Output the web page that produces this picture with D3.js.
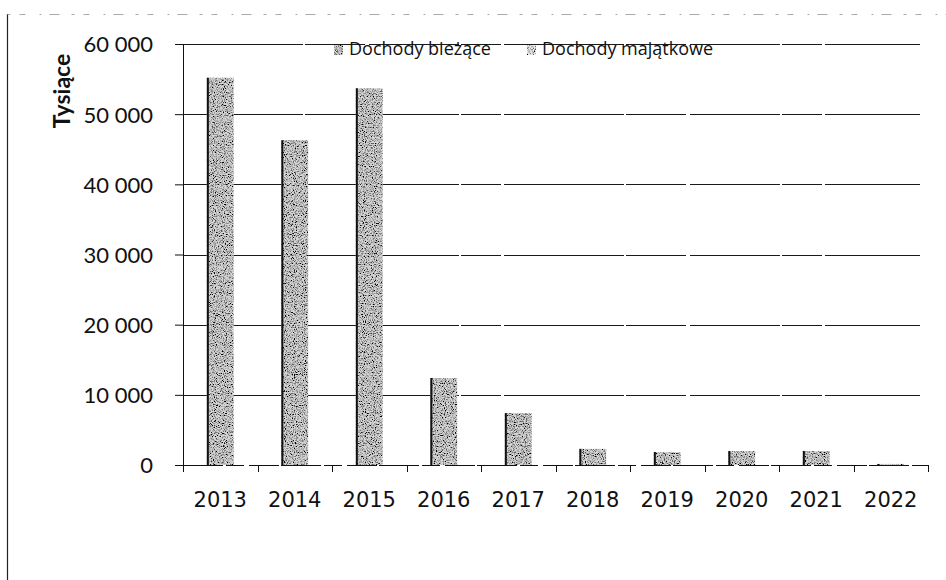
<!DOCTYPE html>
<html lang="pl">
<head>
<meta charset="UTF-8">
<title>Dochody</title>
<script src="https://cdn.jsdelivr.net/npm/d3@7/dist/d3.min.js"></script>
<style>
    body { margin: 0; background: #fff; }
    svg { width: 946px; height: 580px; display: block; }
    .grid line { stroke: #1a1a1a; stroke-width: 1px; stroke-dasharray: 120, 2, 60, 4, 90, 2, 40, 3; }
    .axis path, .axis line { stroke: #111; }
    .ytick { font-family: Lato, sans-serif; font-size: 22px; fill: #111; }
    .xtick { font-family: "DejaVu Sans", sans-serif; font-size: 21px; fill: #111; }
    .legend text { font-family: "Open Sans", sans-serif; font-size: 18px; fill: #111; }
</style>
</head>
<body>
<svg></svg>
<script>
    var years = ['2013', '2014', '2015', '2016', '2017', '2018', '2019', '2020', '2021', '2022'];
    var biezace = [55200, 46300, 53700, 12400, 7400, 2300, 1850, 2000, 2000, 150];
    var majatkowe = [0, 0, 0, 0, 0, 0, 0, 0, 0, 0];
    var seriesNames = ['Dochody bieżące', 'Dochody majątkowe'];
    var yTicks = [0, 10000, 20000, 30000, 40000, 50000, 60000];

    var svg = d3.select('svg');

    var plotLeft = 183, plotRight = 928, plotTop = 44, plotBottom = 465;

    // speckled scan-like fill for the bars
    var defs = svg.append('defs');
    var f = defs.append('filter').attr('id', 'grain')
        .attr('x', 0).attr('y', 0).attr('width', 1).attr('height', 1);
    f.append('feTurbulence').attr('type', 'fractalNoise')
        .attr('baseFrequency', 0.9).attr('numOctaves', 2).attr('seed', 7).attr('result', 'noise');
    f.append('feColorMatrix').attr('in', 'noise').attr('type', 'matrix')
        .attr('values', '0 0 0 0 0  0 0 0 0 0  0 0 0 0 0  -3.4 0 0 0 1.95')
        .attr('result', 'dots');
    f.append('feComposite').attr('in', 'dots').attr('in2', 'SourceGraphic')
        .attr('operator', 'in').attr('result', 'clipped');
    var merge = f.append('feMerge');
    merge.append('feMergeNode').attr('in', 'SourceGraphic');
    merge.append('feMergeNode').attr('in', 'clipped');

    // outer frame (only left and top visible in the scan)
    svg.append('line')
        .attr('x1', 7.5).attr('y1', 14).attr('x2', 7.5).attr('y2', 580)
        .attr('stroke', '#222').attr('stroke-width', 1.2);
    svg.append('line')
        .attr('x1', 7.5).attr('y1', 14.5).attr('x2', 946).attr('y2', 14.5)
        .attr('stroke', '#aaa').attr('stroke-width', 1)
        .attr('stroke-dasharray', '3,9,6,14,2,8,10,12');

    var x = d3.scaleBand()
        .domain(years)
        .range([plotLeft, plotRight])
        .paddingInner(0.64)
        .paddingOuter(0.32);

    var y = d3.scaleLinear()
        .domain([0, 60000])
        .range([plotBottom, plotTop]);

    var fmt = d3.formatLocale({decimal: ',', thousands: ' ', grouping: [3], currency: ['', '']}).format(',');

    // gridlines
    svg.append('g').attr('class', 'grid')
        .selectAll('line')
        .data(yTicks.slice(1))
        .enter()
        .append('line')
        .attr('x1', plotLeft).attr('x2', 920)
        .attr('y1', function (d) { return Math.round(y(d)) + 0.5; })
        .attr('y2', function (d) { return Math.round(y(d)) + 0.5; });

    // stacked bars
    var stackData = years.map(function (yr, i) {
        return {year: yr, b: biezace[i], m: majatkowe[i]};
    });
    var stack = d3.stack().keys(['b', 'm'])(stackData);
    var fills = ['#d6d6d6', '#ececec'];

    var bars = svg.append('g');
    stack.forEach(function (layer, k) {
        bars.selectAll('.bar' + k)
            .data(layer)
            .enter()
            .append('rect')
            .attr('class', 'bar' + k)
            .attr('x', function (d) { return x(d.data.year); })
            .attr('width', x.bandwidth())
            .attr('y', function (d) { return y(d[1]); })
            .attr('height', function (d) { return y(d[0]) - y(d[1]); })
            .attr('fill', fills[k])
            .attr('filter', 'url(#grain)');
    });
    // dark left edge of each bar
    bars.selectAll('.edge')
        .data(stackData)
        .enter()
        .append('line')
        .attr('class', 'edge')
        .attr('x1', function (d) { return x(d.year) + 1; })
        .attr('x2', function (d) { return x(d.year) + 1; })
        .attr('y1', function (d) { return y(d.b + d.m); })
        .attr('y2', plotBottom)
        .attr('stroke', '#111').attr('stroke-width', 2);

    // y axis
    var yAxis = svg.append('g').attr('class', 'axis')
        .attr('transform', 'translate(' + plotLeft + ',0)')
        .call(d3.axisLeft(y).tickValues(yTicks).tickSize(8).tickPadding(22).tickFormat(fmt));
    yAxis.selectAll('text').attr('class', 'ytick').attr('dy', '0.36em');

    // x axis with ticks on band boundaries
    var xAxisG = svg.append('g').attr('class', 'axis');
    xAxisG.append('line')
        .attr('x1', plotLeft).attr('x2', plotRight)
        .attr('y1', plotBottom + 0.5).attr('y2', plotBottom + 0.5)
        .attr('stroke', '#111').attr('stroke-dasharray', '40,3,18,5,30,2');
    var bounds = years.map(function (yr) { return x(yr) - x.step() * 0.32; }).concat([plotRight]);
    xAxisG.selectAll('.xt')
        .data(bounds)
        .enter()
        .append('line')
        .attr('x1', function (d) { return Math.round(d) + 0.5; })
        .attr('x2', function (d) { return Math.round(d) + 0.5; })
        .attr('y1', plotBottom).attr('y2', plotBottom + 7)
        .attr('stroke', '#111');
    xAxisG.selectAll('.xlab')
        .data(years)
        .enter()
        .append('text')
        .attr('class', 'xtick')
        .attr('x', function (d) { return x(d) + x.bandwidth() / 2; })
        .attr('y', 507)
        .attr('text-anchor', 'middle')
        .text(function (d) { return d; });

    // y label
    svg.append('text')
        .attr('transform', 'translate(70,91) rotate(-90)')
        .attr('text-anchor', 'middle')
        .attr('font-family', 'Lato, sans-serif')
        .attr('font-weight', 'bold')
        .attr('font-size', 23)
        .attr('fill', '#111')
        .text('Tysiące');

    // legend
    var legend = svg.append('g').attr('class', 'legend');
    var legendX = [334, 527];
    seriesNames.forEach(function (name, i) {
        legend.append('rect')
            .attr('x', legendX[i]).attr('y', 45)
            .attr('width', 9).attr('height', 10)
            .attr('fill', fills[i])
            .attr('filter', 'url(#grain)');
        legend.append('text')
            .attr('x', legendX[i] + 15)
            .attr('y', 55)
            .text(name);
    });
</script>
</body>
</html>
